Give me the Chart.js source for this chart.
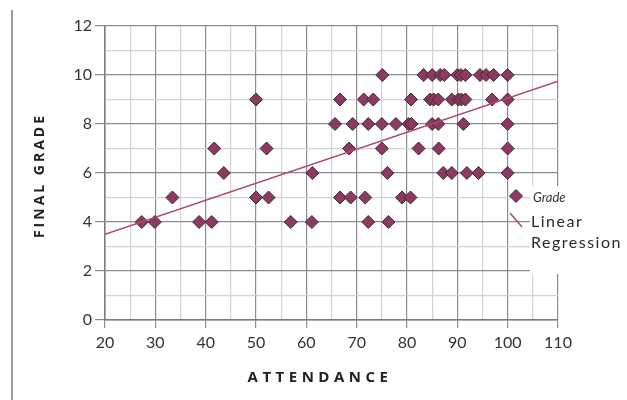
<!DOCTYPE html>
<html>
<head>
<meta charset="utf-8">
<script src="https://cdn.jsdelivr.net/npm/chart.js@4.4.1/dist/chart.umd.min.js"></script>
<style>
  body { margin: 0; background: #fff; }
  #wrap { width: 627px; height: 400px; }
</style>
</head>
<body>
<div id="wrap"><canvas id="gradeChart" width="627" height="400"></canvas></div>
<script>
// grade rows and the attendance of each student on that row
const gradeLevels = [4, 5, 6, 7, 8, 9, 10];
const attendanceByGrade = [
    [27.3, 29.9, 38.7, 41.2, 56.9, 61.1, 72.3, 76.3],
    [33.4, 50, 52.5, 66.7, 68.8, 71.7, 79.0, 80.7],
    [43.6, 61.2, 76.1, 87.2, 88.9, 91.9, 94.2, 100],
    [41.7, 52.1, 68.5, 75.0, 82.3, 86.3, 100],
    [65.7, 69.2, 72.3, 75.0, 77.8, 80.3, 80.9, 85.0, 86.2, 91.2, 100],
    [50, 66.7, 71.4, 73.3, 80.8, 84.6, 85.3, 86.2, 88.9, 90.2, 90.8, 91.6, 96.9, 100],
    [75.1, 83.3, 85.0, 86.6, 87.4, 90.0, 90.7, 91.6, 94.5, 95.7, 97.2, 100]
];
// regression line end points
const regressionX = [20, 110];
const regressionY = [3.5, 9.75];

const xMin = 20, xMax = 110, xLabelStep = 10, xGridStep = 5;
const yMin = 0, yMax = 12, yLabelStep = 2, yGridStep = 1;

const markerFill = '#8c3a62';
const markerEdge = '#3b2b33';
const lineColor = '#a84a73';
const majorGrid = '#8c8c8c';
const minorGrid = '#d2d2d2';

const gradePoints = attendanceByGrade.flatMap((xs, i) => xs.map(x => ({ x: x, y: gradeLevels[i] })));
const regressionPoints = regressionX.map((x, i) => ({ x: x, y: regressionY[i] }));

Chart.defaults.font.family = 'Lato, "Open Sans", sans-serif';

// frame line, axis titles and the legend box on the right
const decorations = {
    id: 'decorations',
    afterDraw(chart) {
        const ctx = chart.ctx;
        ctx.save();

        ctx.strokeStyle = '#9a9a9a';
        ctx.lineWidth = 2;
        ctx.beginPath();
        ctx.moveTo(12, 10);
        ctx.lineTo(12, 400);
        ctx.stroke();

        ctx.fillStyle = '#222';
        ctx.font = 'bold 15px "Open Sans", sans-serif';
        ctx.letterSpacing = '4.5px';
        ctx.textAlign = 'center';
        ctx.textBaseline = 'middle';
        ctx.fillText('ATTENDANCE', 320, 378);
        ctx.save();
        ctx.translate(40, 177);
        ctx.rotate(-Math.PI / 2);
        ctx.font = 'bold 14px "Open Sans", sans-serif';
        ctx.letterSpacing = '3px';
        ctx.fillText('FINAL GRADE', 1.5, 0);
        ctx.restore();

        // legend
        ctx.letterSpacing = '0px';
        ctx.fillStyle = '#fff';
        ctx.fillRect(530, 186, 97, 88);

        const pts = chart.data.datasets[0];
        const reg = chart.data.datasets[1];
        ctx.fillStyle = markerFill;
        ctx.strokeStyle = markerEdge;
        ctx.lineWidth = 1;
        ctx.beginPath();
        ctx.moveTo(516, 189.5); ctx.lineTo(522.5, 196); ctx.lineTo(516, 202.5); ctx.lineTo(509.5, 196);
        ctx.closePath();
        ctx.fill();
        ctx.stroke();

        ctx.strokeStyle = lineColor;
        ctx.lineWidth = 1.5;
        ctx.beginPath();
        ctx.moveTo(510, 213);
        ctx.lineTo(522, 227);
        ctx.stroke();

        ctx.textAlign = 'left';
        ctx.fillStyle = '#333';
        ctx.font = 'italic 13px Lato, serif';
        ctx.fillText(pts.label, 533, 198);
        ctx.fillStyle = '#2a2a2a';
        ctx.font = '16px Lato, sans-serif';
        ctx.letterSpacing = '1.5px';
        const words = reg.label.split(' ');
        ctx.fillText(words[0], 531, 222);
        ctx.fillText(words[1], 531, 243);
        ctx.restore();
    }
};

function gridColor(step) {
    return c => (c.tick && c.tick.value % step === 0) ? majorGrid : minorGrid;
}
function tickColor(step) {
    return c => (c.tick && c.tick.value % step === 0) ? majorGrid : 'rgba(0,0,0,0)';
}

new Chart(document.getElementById('gradeChart'), {
    type: 'scatter',
    data: {
        datasets: [{
            label: 'Grade',
            data: gradePoints,
            pointStyle: 'rectRot',
            pointRadius: 6.5,
            pointHoverRadius: 6.5,
            backgroundColor: markerFill,
            borderColor: markerEdge,
            borderWidth: 1,
            order: 2
        }, {
            label: 'Linear Regression',
            data: regressionPoints,
            showLine: true,
            pointRadius: 0,
            borderColor: lineColor,
            borderWidth: 1.5,
            order: 1
        }]
    },
    options: {
        responsive: false,
        animation: false,
        layout: { padding: { left: 55, right: 69, top: 26, bottom: 40 } },
        plugins: { legend: { display: false }, tooltip: { enabled: false } },
        scales: {
            x: {
                type: 'linear',
                min: xMin,
                max: xMax,
                afterFit: s => { s.height = 40; },
                border: { display: true, color: '#7a7a7a', width: 1.5 },
                grid: { color: gridColor(xLabelStep), tickColor: tickColor(xLabelStep), tickLength: 8, lineWidth: 1.2 },
                ticks: {
                    stepSize: xGridStep,
                    autoSkip: false,
                    maxRotation: 0,
                    padding: 5,
                    color: '#333',
                    font: { size: 16 },
                    callback: v => v % xLabelStep === 0 ? v : ''
                }
            },
            y: {
                type: 'linear',
                min: yMin,
                max: yMax,
                afterFit: s => { s.width = 50; },
                border: { display: true, color: '#7a7a7a', width: 1.5 },
                grid: { color: gridColor(yLabelStep), tickColor: tickColor(yLabelStep), tickLength: 10, lineWidth: 1.2 },
                ticks: {
                    stepSize: yGridStep,
                    autoSkip: false,
                    padding: 3,
                    color: '#333',
                    font: { size: 16 },
                    callback: v => v % yLabelStep === 0 ? v : ''
                }
            }
        }
    },
    plugins: [decorations]
});
</script>
</body>
</html>
